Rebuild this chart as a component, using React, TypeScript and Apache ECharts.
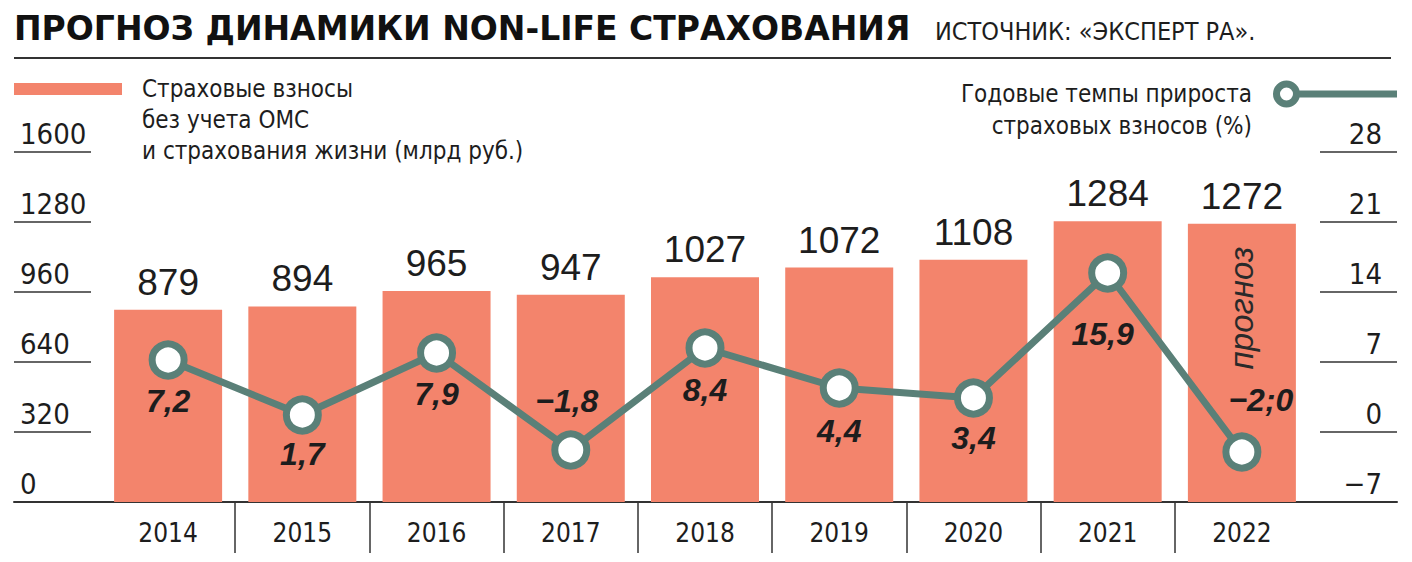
import React, { useEffect, useRef } from "react";
import * as echarts from "echarts";

const years = ["2014", "2015", "2016", "2017", "2018", "2019", "2020", "2021", "2022"];
const premiums = [879, 894, 965, 947, 1027, 1072, 1108, 1284, 1272];
const growth = [7.2, 1.7, 7.9, -1.8, 8.4, 4.4, 3.4, 15.9, -2.0];
const growthLabels = ["7,2", "1,7", "7,9", "−1,8", "8,4", "4,4", "3,4", "15,9", "−2;0"];
const forecastYears = ["2022"];
const premiumTicks = [0, 320, 640, 960, 1280, 1600];
const growthTicks = [-7, 0, 7, 14, 21, 28];

const titleText = "ПРОГНОЗ ДИНАМИКИ NON-LIFE СТРАХОВАНИЯ";
const sourceText = "ИСТОЧНИК: «ЭКСПЕРТ РА».";
const barName = "Страховые взносы\nбез учета ОМС\nи страхования жизни (млрд руб.)";
const lineName = "Годовые темпы прироста\nстраховых взносов (%)";
const forecastText = "прогноз";

// label styling per point (not data)
const labelSide = ["bottom", "bottom", "bottom", "top", "bottom", "bottom", "bottom", "bottom", "top"];
const labelDist = [5, 3, 5, 14, 6, 7, 4, 25, 17];
const labelShift = [0, 0, 0, -4, 0, 0, 0, -5, 19];

const BAR = "#F3846C";
const LINE = "#5A8078";
const INK = "#1d1d1d";
const NARROW = "'Liberation Sans Narrow', 'Arial Narrow', 'DejaVu Sans Condensed', sans-serif";
const SANS = "'Liberation Sans', Arial, sans-serif";

// legend icons (a tiny zero-area sub-path sets the gap to the text)
const barLegendIcon = "path://M0,0 L108,0 L108,12 L0,12 Z M123,6 L123.01,6 L123.01,6.01 Z";
const lineLegendIcon =
  "path://M0,13.5 L0.01,13.5 L0.01,13.51 Z " +
  "M16,13.5 A13.5,13.5 0 1,0 43,13.5 A13.5,13.5 0 1,0 16,13.5 Z " +
  "M23,13.5 A6.5,6.5 0 1,1 36,13.5 A6.5,6.5 0 1,1 23,13.5 Z " +
  "M41,10 L41,17 L140,17 L140,10 Z";

const plain = (v: number) => (v < 0 ? "−" + Math.abs(v) : String(v));

export default function App() {
  const ref = useRef<HTMLDivElement>(null);

  useEffect(() => {
    if (!ref.current) return;
    const chart = echarts.init(ref.current, null, { renderer: "svg" });

    const pMin = premiumTicks[0];
    const pMax = premiumTicks[premiumTicks.length - 1];
    const pStep = premiumTicks[1] - premiumTicks[0];
    const gMin = growthTicks[0];
    const gMax = growthTicks[growthTicks.length - 1];
    const gStep = growthTicks[1] - growthTicks[0];

    const option: any = {
      animation: false,
      backgroundColor: "#ffffff",
      title: [
        {
          text: titleText,
          left: 14,
          top: 12,
          padding: 0,
          textStyle: { fontFamily: "'DejaVu Sans', sans-serif", fontWeight: "bold", fontSize: 33, color: "#111" },
        },
        {
          text: sourceText,
          left: 935,
          top: 19,
          padding: 0,
          textStyle: { fontFamily: NARROW, fontWeight: "normal", fontSize: 25, color: INK },
        },
      ],
      legend: [
        {
          data: [{ name: barName, icon: barLegendIcon }],
          left: 14,
          top: 11.5,
          padding: 0,
          itemWidth: 123,
          itemHeight: 12,
          itemGap: 0,
          selectedMode: false,
          formatter: (name: string) => "\n\n" + name,
          itemStyle: { color: BAR, borderWidth: 0 },
          textStyle: { fontFamily: NARROW, fontSize: 24, lineHeight: 31, color: INK },
        },
        {
          data: [{ name: lineName, icon: lineLegendIcon }],
          right: 15,
          top: 46,
          padding: 0,
          align: "right",
          itemWidth: 140,
          itemHeight: 27,
          itemGap: 0,
          selectedMode: false,
          formatter: (name: string) => "\n" + name,
          itemStyle: { color: LINE, borderWidth: 0, borderColor: "transparent" },
          lineStyle: { width: 0 },
          textStyle: { fontFamily: NARROW, fontSize: 24, lineHeight: 32, color: INK },
        },
      ],
      grid: [
        { left: 101, right: 103, top: 152, bottom: 60, outerBoundsMode: "none" },
        { left: 101, right: 103, top: 502, height: 51, outerBoundsMode: "none" },
        { left: 14, right: 15, top: 501, height: 1, outerBoundsMode: "none" },
      ],
      xAxis: [
        {
          gridIndex: 0,
          type: "category",
          data: years,
          axisLine: { show: false },
          axisTick: { show: false },
          axisLabel: { show: false },
          splitLine: { show: false },
        },
        {
          gridIndex: 1,
          type: "category",
          data: years,
          position: "top",
          axisLine: { show: false },
          axisTick: { show: false },
          axisLabel: { show: true, inside: true, margin: 18, fontFamily: NARROW, fontSize: 26, color: INK },
          splitLine: {
            show: true,
            showMinLine: false,
            showMaxLine: false,
            lineStyle: { color: "#333", width: 1.5 },
          },
        },
        {
          gridIndex: 2,
          type: "value",
          min: 0,
          max: 1,
          position: "bottom",
          axisLine: { show: true, lineStyle: { color: "#333", width: 2 } },
          axisTick: { show: false },
          axisLabel: { show: false },
          splitLine: { show: false },
        },
      ],
      yAxis: [
        {
          gridIndex: 0,
          type: "value",
          position: "left",
          min: pMin,
          max: pMax,
          interval: pStep,
          offset: 10,
          axisLine: { show: false },
          axisTick: { show: true, length: 77, lineStyle: { color: "#333", width: 1.5 } },
          axisLabel: {
            show: true,
            align: "left",
            verticalAlign: "bottom",
            margin: 71,
            padding: [0, 0, 4, 0],
            fontFamily: NARROW,
            fontSize: 29,
            color: INK,
            formatter: plain,
          },
          splitLine: { show: false },
        },
        {
          gridIndex: 0,
          type: "value",
          position: "right",
          min: gMin,
          max: gMax,
          interval: gStep,
          offset: 11,
          axisLine: { show: false },
          axisTick: { show: true, length: 77, lineStyle: { color: "#333", width: 1.5 } },
          axisLabel: {
            show: true,
            align: "right",
            verticalAlign: "bottom",
            margin: 62,
            padding: [0, 0, 4, 0],
            fontFamily: NARROW,
            fontSize: 29,
            color: INK,
            formatter: plain,
          },
          splitLine: { show: false },
        },
        { gridIndex: 1, type: "value", show: false },
        { gridIndex: 2, type: "value", show: false },
      ],
      series: [
        {
          name: barName,
          type: "bar",
          xAxisIndex: 0,
          yAxisIndex: 0,
          data: premiums,
          barWidth: 108,
          barGap: "-100%",
          itemStyle: { color: BAR },
          label: {
            show: true,
            position: "top",
            distance: 9,
            fontFamily: SANS,
            fontSize: 37,
            color: INK,
          },
          emphasis: { disabled: true },
        },
        {
          name: "forecast",
          type: "bar",
          xAxisIndex: 0,
          yAxisIndex: 0,
          silent: true,
          barWidth: 108,
          barGap: "-100%",
          data: years.map((y, i) => (forecastYears.includes(y) ? premiums[i] : "-")),
          itemStyle: { color: "rgba(0,0,0,0)" },
          label: {
            show: true,
            position: "insideTop",
            distance: 23,
            rotate: 90,
            align: "right",
            verticalAlign: "middle",
            formatter: forecastText,
            fontFamily: SANS,
            fontStyle: "italic",
            fontSize: 33,
            color: "#2a2a2a",
          },
          emphasis: { disabled: true },
        },
        {
          name: lineName,
          type: "line",
          xAxisIndex: 0,
          yAxisIndex: 1,
          data: growth.map((v, i) => ({
            value: v,
            label: {
              position: labelSide[i],
              distance: labelDist[i],
              offset: [labelShift[i], 0],
            },
          })),
          lineStyle: { color: LINE, width: 7 },
          symbol: "circle",
          symbolSize: 32,
          itemStyle: { color: "#ffffff", borderColor: LINE, borderWidth: 7 },
          label: {
            show: true,
            formatter: (p: any) => growthLabels[p.dataIndex],
            fontFamily: SANS,
            fontWeight: "bold",
            fontStyle: "italic",
            fontSize: 32,
            color: INK,
          },
          emphasis: { disabled: true },
          z: 5,
        },
      ],
      graphic: [
        {
          type: "line",
          shape: { x1: 14, y1: 58, x2: 1391, y2: 58 },
          style: { stroke: "#333", lineWidth: 2 },
        },
      ],
    };

    chart.setOption(option);
    return () => chart.dispose();
  }, []);

  return (
    <div
      ref={ref}
      style={{ position: "absolute", left: 0, top: 0, width: 1412, height: 562, background: "#fff" }}
    />
  );
}
